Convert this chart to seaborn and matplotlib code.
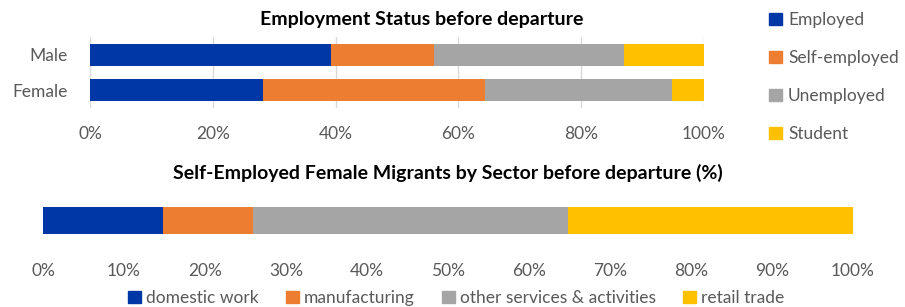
import numpy as np
import pandas as pd
import matplotlib
matplotlib.use("Agg")
import matplotlib.pyplot as plt
import seaborn as sns
from matplotlib.patches import Patch

# Data
genders = ["Male", "Female"]
status = ["Employed", "Self-employed", "Unemployed", "Student"]
male_vals = [39.3, 16.8, 30.9, 13.0]
female_vals = [28.2, 36.2, 30.4, 5.2]

sectors = ["domestic work", "manufacturing", "other services & activities", "retail trade"]
sector_vals = [14.8, 11.1, 38.9, 35.2]

colors = ["#0037A6", "#ED7D31", "#A5A5A5", "#FFC000"]
grey_txt = "#595959"

sns.set_theme(style="white")
plt.rcParams["font.family"] = ["Lato", "DejaVu Sans"]

fig = plt.figure(figsize=(9.05, 3.07), dpi=100)
W, H = 905, 307
ax1 = fig.add_axes([90 / W, 1 - 108 / H, 614 / W, 71 / H])
ax2 = fig.add_axes([43 / W, 1 - 250 / H, 810 / W, 60 / H])

# top chart: stacked by drawing cumulative sums from the back
emp = pd.DataFrame({"gender": genders})
cum = np.cumsum(np.array([male_vals, female_vals]), axis=1)
for i in range(len(status) - 1, -1, -1):
    emp["v"] = cum[:, i]
    sns.barplot(data=emp, x="v", y="gender", color=colors[i], width=0.63,
                saturation=1, ax=ax1, orient="h", linewidth=0)
ax1.set_xlim(0, 100)
ax1.set_xticks(range(0, 101, 20))
ax1.set_xticklabels([f"{t}%" for t in range(0, 101, 20)])
ax1.grid(axis="x", color="#D9D9D9", linewidth=1)
ax1.set_axisbelow(True)
ax1.set_xlabel("")
ax1.set_ylabel("")
for s in ax1.spines.values():
    s.set_visible(False)
ax1.tick_params(axis="x", length=0, pad=13, labelsize=12.5, labelcolor=grey_txt)
ax1.tick_params(axis="y", length=0, pad=16, labelsize=12.5, labelcolor=grey_txt)
fig.text(422 / W, 1 - 20 / H, "Employment Status before departure",
         ha="center", va="center", fontsize=14, fontweight="bold", color="black")
fig.legend(handles=[Patch(color=c, label=l) for c, l in zip(colors, status)],
           loc="upper left", bbox_to_anchor=(762 / W, 1 - 5 / H), frameon=False,
           fontsize=12.5, labelcolor=grey_txt, handlelength=0.75, handleheight=0.75,
           handletextpad=0.35, labelspacing=1.27, borderaxespad=0)

# bottom chart
sec = pd.DataFrame({"row": ["all"]})
cum2 = np.cumsum(sector_vals)
for i in range(len(sectors) - 1, -1, -1):
    sec["v"] = [cum2[i]]
    sns.barplot(data=sec, x="v", y="row", color=colors[i], width=0.45,
                saturation=1, ax=ax2, orient="h", linewidth=0)
ax2.set_xlim(0, 100)
ax2.set_xticks(range(0, 101, 10))
ax2.set_xticklabels([f"{t}%" for t in range(0, 101, 10)])
ax2.set_yticks([])
ax2.set_xlabel("")
ax2.set_ylabel("")
for s in ax2.spines.values():
    s.set_visible(False)
ax2.tick_params(axis="x", length=0, pad=9, labelsize=12.5, labelcolor=grey_txt)
fig.text(448 / W, 1 - 173 / H, "Self-Employed Female Migrants by Sector before departure (%)",
         ha="center", va="center", fontsize=14, fontweight="bold", color="black")
fig.legend(handles=[Patch(color=c, label=l) for c, l in zip(colors, sectors)],
           loc="center", bbox_to_anchor=(456 / W, 1 - 298 / H), ncol=4, frameon=False,
           fontsize=12.5, labelcolor=grey_txt, handlelength=0.75, handleheight=0.75,
           handletextpad=0.3, columnspacing=1.55, borderaxespad=0)

fig.savefig("out.png", dpi=100)
